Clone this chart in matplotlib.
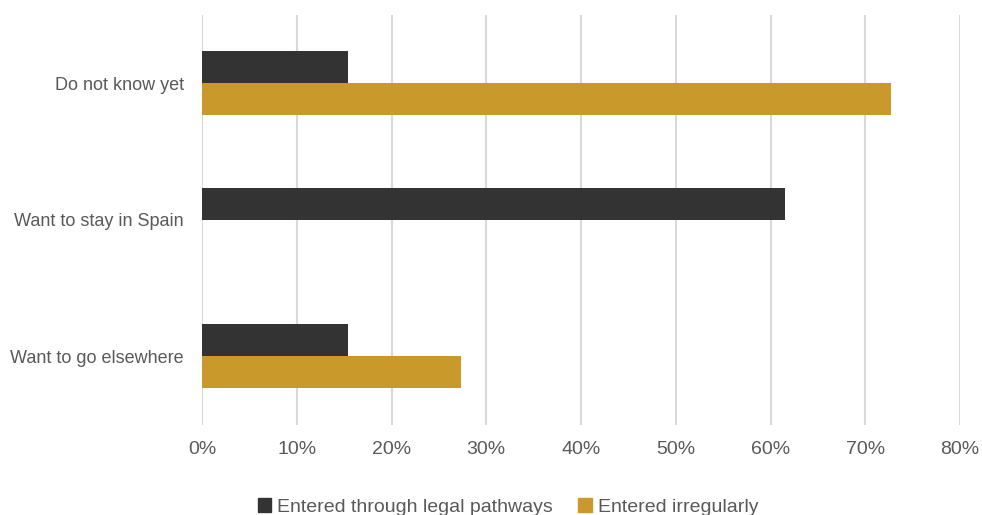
import matplotlib
matplotlib.use("Agg")
import matplotlib.pyplot as plt
import numpy as np
from matplotlib.patches import Patch

plt.rcParams['font.family'] = ['Liberation Sans', 'DejaVu Sans']

categories = ["Want to go elsewhere", "Want to stay in Spain", "Do not know yet"]
legal = [15.4, 61.5, 15.4]
irregular = [27.3, 0.0, 72.7]
xticks = [0, 10, 20, 30, 40, 50, 60, 70, 80]

dark = "#333333"
gold = "#c9992c"
txt = "#595959"

fig = plt.figure(figsize=(9.82, 5.15), dpi=100)
ax = fig.add_axes([202 / 982, 90.5 / 515, 758 / 982, 409.5 / 515])

y = np.arange(len(categories))
h = 0.235
ax.barh(y + h / 2, legal, height=h, color=dark, zorder=3)
ax.barh(y - h / 2, irregular, height=h, color=gold, zorder=3)

ax.set_xlim(0, 80)
ax.set_ylim(-0.5, 2.5)
ax.set_xticks(xticks)
ax.set_xticklabels([f"{v}%" for v in xticks], fontsize=14, color=txt)
ax.set_yticks(y)
ax.set_yticklabels(categories, fontsize=13, color=txt)
ax.tick_params(length=0, pad=12, axis='x')
ax.tick_params(length=0, pad=13, axis='y')
ax.grid(axis='x', color="#d9d9d9", linewidth=1.5, zorder=0)
for s in ax.spines.values():
    s.set_visible(False)

handles = [Patch(color=dark, label="Entered through legal pathways"),
           Patch(color=gold, label="Entered irregularly")]
fig.legend(handles=handles, loc='center', bbox_to_anchor=(508 / 982, 8 / 515),
           ncol=2, frameon=False, fontsize=14, labelcolor=txt,
           handlelength=0.7, handleheight=0.7, handletextpad=0.3, columnspacing=1.3)

fig.savefig("out.png", dpi=100)
